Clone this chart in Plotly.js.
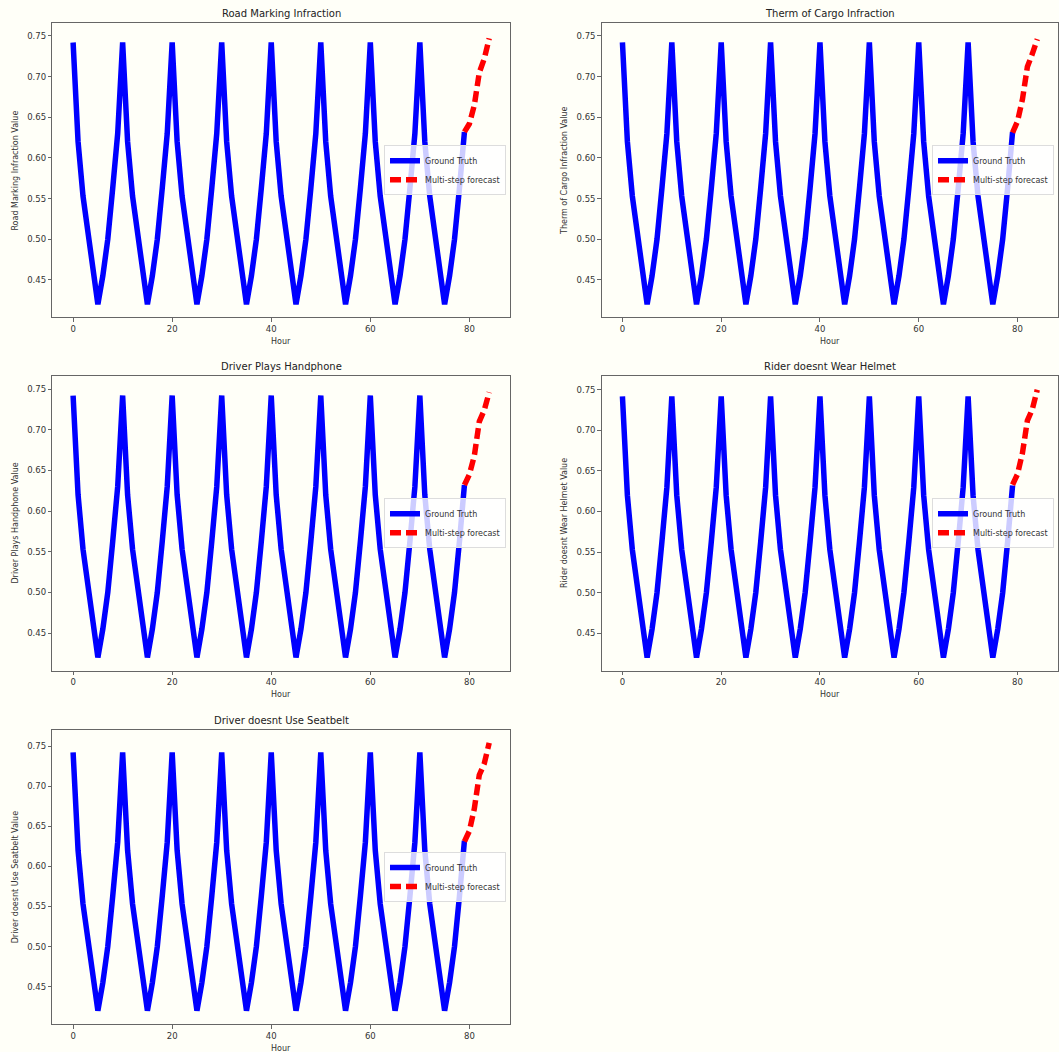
<!DOCTYPE html>
<html>
<head>
<meta charset="utf-8">
<script src="https://cdn.plot.ly/plotly-3.0.1.min.js"></script>
<style>html,body{margin:0;padding:0;background:#fffff8;}#chart{width:1059px;height:1052px;}</style>
</head>
<body>
<div id="chart"></div>
<script>
// ---- data ----
var titles = ["Road Marking Infraction", "Therm of Cargo Infraction", "Driver Plays Handphone", "Rider doesnt Wear Helmet", "Driver doesnt Use Seatbelt"];
var yLabels = ["Road Marking Infraction Value", "Therm of Cargo Infraction Value", "Driver Plays Handphone Value", "Rider doesnt Wear Helmet Value", "Driver doesnt Use Seatbelt Value"];
var xTickVals = [0, 20, 40, 60, 80];
var yTickVals = [0.45, 0.50, 0.55, 0.60, 0.65, 0.70, 0.75];

var hours = [0,1,2,3,4,5,6,7,8,9,10,11,12,13,14,15,16,17,18,19,
             20,21,22,23,24,25,26,27,28,29,30,31,32,33,34,35,36,37,38,39,
             40,41,42,43,44,45,46,47,48,49,50,51,52,53,54,55,56,57,58,59,
             60,61,62,63,64,65,66,67,68,69,70,71,72,73,74,75,76,77,78,79];

var groundTruth = [
  0.742,0.620,0.553,0.505,0.458,0.420,0.455,0.500,0.563,0.630,
  0.742,0.620,0.553,0.505,0.458,0.420,0.455,0.500,0.563,0.630,
  0.742,0.620,0.553,0.505,0.458,0.420,0.455,0.500,0.563,0.630,
  0.742,0.620,0.553,0.505,0.458,0.420,0.455,0.500,0.563,0.630,
  0.742,0.620,0.553,0.505,0.458,0.420,0.455,0.500,0.563,0.630,
  0.742,0.620,0.553,0.505,0.458,0.420,0.455,0.500,0.563,0.630,
  0.742,0.620,0.553,0.505,0.458,0.420,0.455,0.500,0.563,0.630,
  0.742,0.620,0.553,0.505,0.458,0.420,0.455,0.500,0.563,0.632
];

var forecastHours = [79, 80, 81, 82, 83, 84];
var forecastRoad     = [0.632, 0.642, 0.665, 0.705, 0.722, 0.747];
var forecastCargo    = [0.631, 0.645, 0.672, 0.712, 0.728, 0.746];
var forecastPhone    = [0.632, 0.645, 0.668, 0.710, 0.724, 0.746];
var forecastHelmet   = [0.633, 0.646, 0.672, 0.712, 0.726, 0.750];
var forecastSeatbelt = [0.631, 0.644, 0.672, 0.714, 0.728, 0.754];
var forecasts = [forecastRoad, forecastCargo, forecastPhone, forecastHelmet, forecastSeatbelt];

// ---- layout geometry (pixels) ----
var W = 1059, H = 1052;
var boxes = [
  {l: 52.3,  r: 510,  t: 23.3, b: 317.3, yr: [0.404, 0.7656]},
  {l: 601.7, r: 1058, t: 23.3, b: 317.3, yr: [0.404, 0.7655]},
  {l: 52.3,  r: 510,  t: 376,  b: 670.5, yr: [0.404, 0.766]},
  {l: 601.7, r: 1058, t: 376,  b: 670.5, yr: [0.404, 0.767]},
  {l: 52.3,  r: 510,  t: 730,  b: 1024,  yr: [0.4034, 0.770]}
];

var font = "DejaVu Sans, sans-serif";
var traces = [];
var layout = {
  width: W, height: H,
  margin: {l: 0, r: 0, t: 0, b: 0},
  paper_bgcolor: "#fffff8",
  plot_bgcolor: "rgba(0,0,0,0)",
  font: {family: font, size: 8.5, color: "#333"},
  showlegend: true,
  annotations: []
};

for (var i = 0; i < 5; i++) {
  var bx = boxes[i];
  var n = i + 1;
  var xa = n === 1 ? "x" : "x" + n;
  var ya = n === 1 ? "y" : "y" + n;
  var lg = n === 1 ? "legend" : "legend" + n;
  traces.push({
    x: hours, y: groundTruth, xaxis: xa, yaxis: ya, legend: lg,
    type: "scatter", mode: "lines", name: "Ground Truth",
    line: {color: "#0000ff", width: 5.5}
  });
  traces.push({
    x: forecastHours, y: forecasts[i], xaxis: xa, yaxis: ya, legend: lg,
    type: "scatter", mode: "lines", name: "Multi-step forecast",
    line: {color: "#ff0000", width: 5.5, dash: "11px,5px"}
  });
  var dx = [bx.l / W, bx.r / W];
  var dy = [1 - bx.b / H, 1 - bx.t / H];
  var axCommon = {
    showline: true, mirror: true, linecolor: "#666", linewidth: 1,
    ticks: "outside", ticklen: 3.5, tickcolor: "#666", tickwidth: 1,
    showgrid: false, zeroline: false, fixedrange: true,
    tickfont: {family: font, size: 8.5, color: "#333"}
  };
  layout["xaxis" + (n === 1 ? "" : n)] = Object.assign({}, axCommon, {
    domain: dx, anchor: ya, range: [-4.2, 88.2],
    tickmode: "array", tickvals: xTickVals
  });
  layout["yaxis" + (n === 1 ? "" : n)] = Object.assign({}, axCommon, {
    domain: dy, anchor: xa, range: bx.yr,
    tickmode: "array", tickvals: yTickVals, tickformat: ".2f"
  });
  layout[lg] = {
    x: (bx.r - 4) / W, xanchor: "right",
    y: 1 - ((bx.t + bx.b) / 2) / H, yanchor: "middle",
    xref: "paper", yref: "paper",
    bgcolor: "rgba(255,255,255,0.8)", bordercolor: "#ddd", borderwidth: 1,
    font: {family: font, size: 8, color: "#333"},
    itemwidth: 30, tracegroupgap: 0
  };
  // subplot title
  layout.annotations.push({
    text: titles[i], xref: "paper", yref: "paper",
    x: ((bx.l + bx.r) / 2) / W, y: 1 - (bx.t - 9.5) / H,
    xanchor: "center", yanchor: "middle", showarrow: false,
    font: {family: font, size: 10, color: "#222"}
  });
  // x title
  layout.annotations.push({
    text: "Hour", xref: "paper", yref: "paper",
    x: ((bx.l + bx.r) / 2) / W, y: 1 - (bx.b + 24) / H,
    xanchor: "center", yanchor: "middle", showarrow: false,
    font: {family: font, size: 8, color: "#333"}
  });
  // y title
  layout.annotations.push({
    text: yLabels[i], xref: "paper", yref: "paper",
    x: (bx.l - 37) / W, y: 1 - ((bx.t + bx.b) / 2) / H,
    xanchor: "center", yanchor: "middle", showarrow: false, textangle: -90,
    font: {family: font, size: 8, color: "#333"}
  });
}

Plotly.newPlot("chart", traces, layout, {displayModeBar: false, staticPlot: true});
</script>
</body>
</html>
